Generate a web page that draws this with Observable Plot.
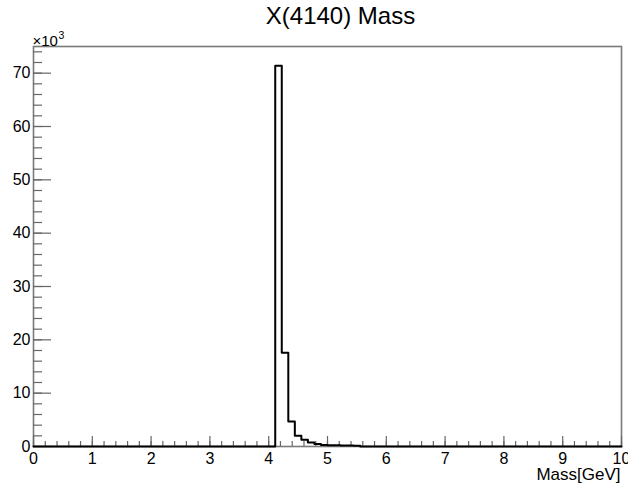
<!DOCTYPE html>
<html>
<head>
<meta charset="utf-8">
<script src="https://cdn.jsdelivr.net/npm/d3@7"></script>
<script src="https://cdn.jsdelivr.net/npm/@observablehq/plot@0.6"></script>
<style>
  html, body { margin: 0; padding: 0; background: #fff; }
  #chart svg { display: block; }
</style>
</head>
<body>
<div id="chart"></div>
<script>
// Histogram definition (ROOT-style TH1: 90 bins from 0 to 10 GeV)
const title = "X(4140) Mass";
const xTitle = "Mass[GeV]";
const yExponentBase = "×10";
const yExponentPower = "3";
const xMin = 0;
const xMax = 10;
const nBins = 90;
const counts = [
  0, 0, 0, 0, 0, 0, 0, 0, 0, 0,
  0, 0, 0, 0, 0, 0, 0, 0, 0, 0,
  0, 0, 0, 0, 0, 0, 0, 0, 0, 0,
  0, 0, 0, 0, 0, 0, 0, 71400, 17600, 4700,
  2000, 1250, 750, 450, 280, 250, 230, 200, 180, 160,
  0, 0, 0, 0, 0, 0, 0, 0, 0, 0,
  0, 0, 0, 0, 0, 0, 0, 0, 0, 0,
  0, 0, 0, 0, 0, 0, 0, 0, 0, 0,
  0, 0, 0, 0, 0, 0, 0, 0, 0, 0
];
const xMajorTicks = [0, 1, 2, 3, 4, 5, 6, 7, 8, 9, 10];
const yMajorTicks = [0, 10000, 20000, 30000, 40000, 50000, 60000, 70000];
const yMax = 75000;

const xMinorTicks = d3.range(0, 50.5).map(k => k * 0.2);
const yMinorTicks = d3.range(0, 37.5).map(k => k * 2000);

// Step outline points at bin edges
const binWidth = (xMax - xMin) / nBins;
const steps = counts.map((c, i) => ({x: xMin + i * binWidth, y: c}));
steps.push({x: xMax, y: counts[counts.length - 1]});

const W = 628, H = 487;
const mL = 33, mR = 7, mT = 46, mB = 41;
const frameW = W - mL - mR, frameH = H - mT - mB;
const font = "'Liberation Sans', Arial, Helvetica, sans-serif";
const axisGrey = "#666";

const chart = Plot.plot({
  width: W,
  height: H,
  marginLeft: mL,
  marginRight: mR,
  marginTop: mT,
  marginBottom: mB,
  style: {fontFamily: font, background: "#fff", color: "#000"},
  x: {domain: [xMin, xMax]},
  y: {domain: [0, yMax]},
  marks: [
    Plot.frame({stroke: "#7a7a7a", strokeWidth: 1.6}),
    // x ticks (inside, upward)
    Plot.tickX(xMajorTicks, {x: d => d, insetTop: frameH - 10, stroke: axisGrey, strokeWidth: 1.2}),
    Plot.tickX(xMinorTicks, {x: d => d, insetTop: frameH - 5, stroke: axisGrey, strokeWidth: 1.2}),
    // y ticks (inside, rightward)
    Plot.tickY(yMajorTicks, {y: d => d, insetRight: frameW - 18, stroke: axisGrey, strokeWidth: 1.2}),
    Plot.tickY(yMinorTicks, {y: d => d, insetRight: frameW - 9, stroke: axisGrey, strokeWidth: 1.2}),
    // tick labels
    Plot.axisX(xMajorTicks, {tickSize: 0, tickPadding: 6, tickFormat: d => String(d), fontSize: 16, label: null, fill: "#000"}),
    Plot.axisY(yMajorTicks, {tickSize: 0, tickPadding: 3, tickFormat: d => String(d / 1000), fontSize: 16, label: null, fill: "#000"}),
    // histogram outline
    Plot.line(steps, {x: "x", y: "y", curve: "step-after", stroke: "#000", strokeWidth: 2}),
    // exponent label
    Plot.text([yExponentBase], {text: d => d, frameAnchor: "top-left", textAnchor: "start", lineAnchor: "bottom", dx: -1, dy: -1, fontSize: 15, fill: "#000"}),
    Plot.text([yExponentPower], {text: d => d, frameAnchor: "top-left", textAnchor: "start", lineAnchor: "bottom", dx: 25, dy: -8, fontSize: 10.5, fill: "#000"}),
    // axis title
    Plot.text([xTitle], {text: d => d, frameAnchor: "bottom-right", textAnchor: "end", lineAnchor: "top", dx: -1, dy: 21, fontSize: 17, fill: "#000"}),
    // chart title
    Plot.text([title], {text: d => d, frameAnchor: "top", textAnchor: "middle", lineAnchor: "top", dx: 13, dy: -40, fontSize: 24, fill: "#000"})
  ]
});

document.getElementById("chart").appendChild(chart);
</script>
</body>
</html>
